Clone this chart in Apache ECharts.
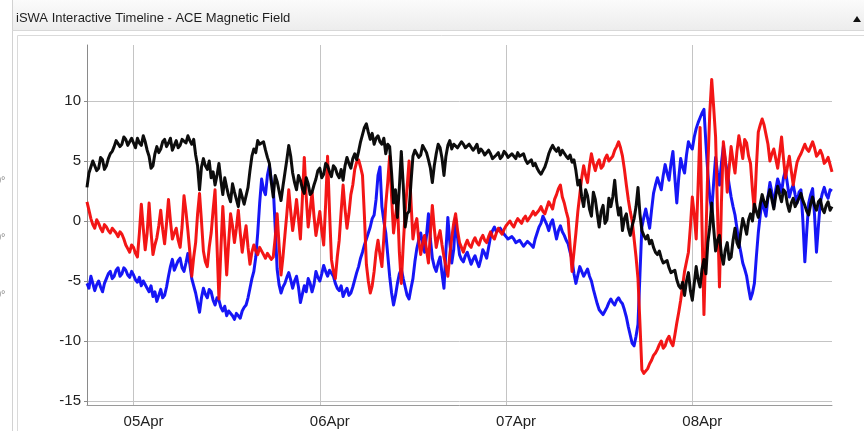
<!DOCTYPE html>
<html>
<head>
<meta charset="utf-8">
<title>iSWA Interactive Timeline - ACE Magnetic Field</title>
<script src="https://cdn.jsdelivr.net/npm/echarts@6/dist/echarts.min.js"></script>
<style>
  html, body { margin: 0; padding: 0; background: #fff; }
  #chart { width: 864px; height: 431px; }
</style>
</head>
<body>
<div id="chart"></div>
<script>
// ACE magnetic field components (nT), 15-minute samples starting 04 Apr 18:00 UT
const stepHours = 0.25;
const dayTicks = [6, 30, 54, 78];            // hours after start: 05Apr..08Apr 00:00
const dayLabels = ['05Apr', '06Apr', '07Apr', '08Apr'];
const yTicks = [-15, -10, -5, 0, 5, 10];

const bx = [
  2.8, 4.0, 4.5, 5.0, 4.9, 4.2, 4.4, 5.3, 5.1, 4.3,
  4.6, 5.2, 5.6, 5.8, 6.2, 6.7, 6.6, 6.2, 6.4, 7.0,
  6.8, 6.3, 6.6, 6.9, 6.5, 6.1, 6.9, 6.5, 6.3, 7.1,
  6.6, 5.9, 5.4, 4.4, 4.6, 5.6, 6.2, 5.7, 6.0, 6.6,
  6.8, 6.2, 6.5, 6.9, 5.9, 6.3, 6.7, 6.1, 6.3, 6.8,
  6.9, 6.5, 7.1, 6.7, 6.4, 6.8, 5.5, 4.6, 2.6, 4.5,
  5.2, 4.6, 4.3, 5.0, 3.6, 4.1, 3.0, 3.8, 4.8, 3.4,
  2.2, 3.6, 2.8, 2.1, 1.6, 3.1, 2.4, 1.8, 1.2, 2.6,
  2.0, 1.4, 1.3, 2.8, 4.2, 5.4, 6.0, 5.7, 6.7, 6.4,
  6.3, 6.6, 5.9, 5.3, 4.8, 3.2, 2.0, 3.8, 3.3, 2.5,
  1.7, 2.9, 4.0, 5.1, 6.3, 5.4, 4.0, 3.2, 2.6, 3.8,
  3.4, 2.7, 2.3, 3.6, 3.1, 2.2, 2.4, 3.0, 3.5, 4.2,
  4.4, 3.6, 3.9, 4.8, 4.6, 4.1, 3.7, 4.6, 4.4, 3.9,
  3.6, 4.3, 3.4, 4.6, 5.3, 4.8, 4.4, 5.2, 5.6, 5.1,
  5.8, 6.6, 7.2, 7.8, 8.1, 7.4, 6.8, 7.3, 6.4, 6.9,
  7.1, 6.6, 6.4, 6.9, 5.6, 6.4, 6.2, 4.0, 1.5, 2.6,
  0.3, 2.8, 5.8, 3.0, -0.5, 0.6, 0.8, 3.2, 5.4, 5.9,
  6.0, 5.3, 5.5, 6.3, 6.2, 5.7, 5.1, 4.4, 3.2, 4.6,
  5.6, 6.4, 6.1, 5.2, 3.8, 5.4, 6.3, 6.7, 6.0, 6.4,
  6.5, 6.1, 6.2, 6.6, 6.4, 6.1, 6.0, 6.4, 6.3, 5.9,
  6.1, 6.4, 5.7, 6.0, 5.8, 5.5, 5.4, 5.9, 5.6, 5.2,
  5.3, 5.5, 5.7, 5.2, 5.4, 5.8, 5.6, 5.3, 5.2, 5.6,
  5.5, 5.2, 5.7, 5.4, 5.3, 5.6, 5.1, 4.8, 4.9, 5.1,
  4.6, 4.8, 4.4, 4.1, 3.9, 4.2, 4.5, 5.0, 5.6, 6.0,
  6.3, 6.0, 5.8, 6.1, 5.5, 5.9, 5.8, 5.4, 5.2, 5.5,
  4.9, 5.1, 4.2, 3.0, 3.4, 2.0, 1.2, 2.6, 2.1, 1.0,
  0.4, 2.4, 1.8, 0.6, -0.5, 0.8, 1.3, -0.2, 0.1, 1.9,
  1.2, 2.0, 3.4, 1.6, 0.5, 1.1, -0.8, 0.2, 0.6, -0.6,
  -1.2, -0.4, 0.2, 1.2, 2.8, 0.6, -0.8, -1.2, -1.5, -1.2,
  -1.9, -1.6, -2.2, -2.6, -2.8, -2.5, -3.1, -3.5, -3.6, -3.3,
  -3.9, -4.3, -4.4, -4.1, -4.9, -5.4, -5.6, -5.1, -6.2, -5.0,
  -4.3, -5.8, -6.6, -5.2, -3.8, -4.9, -5.5, -4.0, -3.2, -4.4,
  -1.8, -0.5, 1.5, -0.6, -2.5, -1.6, -1.2, -2.8, -3.6, -2.4,
  -1.8, -3.2, -3.0, -1.6, -0.6, -1.8, -2.2, -0.9, 0.2, -0.4,
  -1.1, 0.1, 0.6, 0.0, 1.4, 0.8, 0.3, 1.4, 2.2, 1.6,
  1.2, 2.0, 2.6, 1.8, 1.0, 2.1, 2.9, 2.2, 1.6, 2.6,
  2.4, 1.4, 0.8, 1.5, 1.9, 1.2, 1.1, 1.9, 2.3, 1.7,
  1.3, 0.8, 0.5, 1.4, 2.0, 1.3, 0.9, 1.6, 1.8, 1.0,
  0.7, 1.3, 1.6, 0.9, 1.2
];

const by = [
  -5.2, -5.6, -4.6, -5.2, -5.8, -5.3, -5.0, -5.5, -5.9, -5.2,
  -4.8, -4.4, -4.2, -4.8, -4.6, -4.1, -3.9, -4.6, -4.4, -3.9,
  -4.1, -4.5, -4.7, -4.2, -4.5, -4.9, -5.1, -4.7, -5.4, -5.0,
  -5.0, -5.6, -5.9, -5.4, -6.3, -5.9, -6.7, -6.2, -5.7, -6.4,
  -6.2, -5.5, -4.6, -3.8, -3.2, -4.1, -3.7, -3.3, -3.1, -3.9,
  -4.2, -3.5, -2.7, -3.6, -4.8, -5.4, -6.0, -6.8, -7.6, -6.4,
  -5.6, -6.1, -6.4, -5.7, -5.9, -6.6, -7.0, -6.4, -6.6, -7.2,
  -7.5, -7.1, -7.9, -7.5, -7.4, -7.9, -8.2, -7.7, -7.8, -8.1,
  -7.5, -7.2, -7.0, -6.4, -5.6, -4.8, -4.2, -3.0, -1.0, 1.5,
  3.5, 2.6, 2.2, 3.8, 4.6, 3.4, 2.8, -0.5, -4.0, -5.3,
  -6.0, -5.5, -5.2, -4.7, -4.3, -4.9, -5.6, -5.0, -4.6, -5.5,
  -6.8, -6.1, -5.4, -5.9, -4.8, -5.2, -5.9, -5.3, -4.2, -4.7,
  -5.0, -4.4, -3.7, -4.2, -4.6, -4.1, -4.0, -4.6, -5.2, -5.6,
  -5.8, -5.4, -6.3, -5.9, -5.6, -6.2, -6.0, -5.5, -4.9, -4.3,
  -3.8, -3.1, -2.6, -2.0, -1.5, -1.0, -0.5, 0.2, 0.5, 1.8,
  3.8, 4.5, 1.2, 0.0, -1.0, -2.8, -4.6, -6.0, -7.0, -6.2,
  -5.2, -4.4, -4.0, -4.8, -5.5, -6.2, -6.5, -5.6, -4.8, -3.4,
  -2.3, -1.6, -1.0, -1.9, -2.6, -1.2, 0.6, -1.5, -3.1, -3.8,
  -4.2, -3.5, -3.0, -4.4, -5.6, -2.5, 0.3, -1.8, -3.5, -2.4,
  0.2, -1.4, -2.8, -3.2, -3.4, -2.9, -2.6, -3.1, -3.6, -3.2,
  -2.9, -3.4, -3.8, -3.2, -2.4, -2.7, -3.1, -2.2, -1.3, -0.8,
  -0.5, -0.9, -1.0, -0.6, -0.7, -1.1, -1.3, -1.5, -1.6, -1.3,
  -1.5, -1.8, -1.9, -1.6, -1.7, -2.1, -2.0, -1.7, -1.6, -2.0,
  -2.2, -1.5, -1.0, -0.5, -0.2, 0.4, 0.3, -0.3, -0.8, -0.2,
  0.1, -0.7, -1.5, -0.8, -0.4, -0.9, -1.2, -1.6, -1.9, -2.6,
  -3.2, -4.4, -5.2, -4.5, -3.8, -4.2, -4.6, -4.3, -4.0, -4.6,
  -5.0, -5.7, -6.3, -6.9, -7.4, -7.6, -7.8, -7.5, -7.2, -6.8,
  -6.5, -6.8, -7.0, -6.6, -6.4, -6.7, -6.9, -7.4, -8.0, -8.8,
  -9.5, -10.2, -10.4, -9.6, -8.6, -4.5, -0.5, 0.3, 1.0, 0.2,
  -0.6, 0.9, 2.3, 3.0, 3.6, 3.1, 2.6, 3.8, 4.7, 4.0,
  3.4, 4.8, 5.8, 3.6, 1.5, 3.6, 5.2, 4.5, 4.0, 5.5,
  6.6, 6.2, 6.0, 7.0, 7.7, 8.2, 8.6, 9.0, 9.3, 6.5,
  4.0, 2.0, 0.8, 3.2, 5.3, 4.0, 3.0, 4.8, 6.2, 5.0,
  4.1, 3.0, 2.0, 1.2, 0.5, -0.6, -1.8, -2.6, -3.5, -4.0,
  -4.6, -5.6, -6.5, -6.0, -5.2, -3.0, -1.0, 0.5, 1.8, 1.0,
  0.4, 2.0, 3.2, 2.4, 1.2, 2.6, 3.5, 3.0, 2.4, 3.6,
  4.2, 3.1, 2.0, 2.6, 3.0, 2.2, 1.5, 2.4, 2.6, 0.0,
  -3.4, -0.8, 1.5, 2.2, 2.7, 0.5, -2.6, -0.4, 1.6, 2.3,
  2.8, 2.2, 1.9, 2.6, 2.5
];

const bz = [
  1.6, 0.9, 0.2, -0.3, -0.6, 0.1, -0.2, -0.6, -0.9, -0.3,
  -0.5, -0.8, -1.0, -0.6, -0.7, -1.0, -1.3, -0.9, -1.1, -1.5,
  -2.0, -2.3, -2.6, -2.0, -2.2, -2.7, -3.0, -1.0, 1.4, -0.6,
  -2.4, -1.0, 1.5, -0.9, -2.8, -2.0, -1.4, -0.4, 0.9, -0.7,
  -1.9, -0.2, 1.8, 0.0, -1.5, -1.0, -0.6, -1.6, -2.2, -0.5,
  2.1, 0.8, -0.8, -2.6, -4.6, -3.0, -1.8, 0.6, 2.3, 0.0,
  -2.5, -3.4, -3.8, -2.2, -1.0, 0.9, 2.6, -2.0, -6.5, -2.4,
  1.2, -1.5, -4.5, -1.8, 0.6, -0.4, -1.8, -0.6, 0.9, -1.0,
  -2.6, -1.4, -0.4, -2.2, -3.6, -2.6, -2.0, -2.5, -2.8, -2.2,
  -2.3, -2.8, -3.1, -2.7, -2.6, -3.2, -3.0, -1.4, 0.6, -2.0,
  -4.5, -3.0, -1.2, 0.6, 2.6, 0.8, -0.8, 0.4, 1.8, 0.2,
  -1.5, 1.8, 5.3, 2.0, -0.5, 0.9, 2.4, 0.4, -1.2, -0.2,
  0.8, -0.8, -2.0, 1.4, 5.4, 0.8, -3.2, -4.2, -4.8, -3.0,
  -1.6, 0.8, 3.0, 1.0, -0.6, 0.6, 2.2, 3.0, 4.3, 4.9,
  5.1, 4.5, 3.8, 0.4, -3.6, -5.0, -6.0, -5.4, -4.2, -2.6,
  -1.6, -2.8, -3.8, -1.4, 1.4, 3.2, 5.4, 2.0, -1.0, 0.4,
  1.6, -2.6, -5.2, -2.0, 0.8, 2.8, 5.0, 1.6, -1.5, -0.4,
  0.2, -1.6, -2.8, -1.9, -1.2, -2.4, -3.5, -1.0, 1.3, -0.6,
  -2.2, -1.4, -0.8, -2.0, -3.0, -3.8, -4.6, -2.8, -1.4, -0.2,
  0.6, -0.8, -1.8, -2.2, -2.6, -2.0, -1.6, -2.0, -2.2, -1.7,
  -1.4, -1.8, -2.0, -1.5, -1.2, -1.6, -1.8, -1.3, -0.9, -1.3,
  -1.5, -1.0, -0.6, -0.9, -1.1, -0.7, -0.4, -0.2, 0.0, -0.3,
  -0.5, -0.1, 0.2, 0.0, -0.2, 0.2, 0.4, 0.0, 0.1, 0.5,
  0.8, 0.5, 0.4, 0.9, 1.2, 0.8, 0.6, 1.1, 1.6, 1.3,
  1.0, 1.8, 2.2, 2.7, 3.0, 2.0, 1.5, 0.8, 0.2, -2.0,
  -4.2, -2.6, -1.0, 0.8, 2.2, 3.6, 4.6, 3.8, 3.2, 4.6,
  5.6, 4.8, 4.2, 4.8, 5.1, 4.4, 4.6, 5.2, 5.5, 5.0,
  4.9, 5.4, 5.9, 6.2, 6.6, 6.1, 5.4, 4.3, 3.0, 1.8,
  0.8, 0.0, -1.5, -3.0, -4.8, -8.5, -12.4, -12.7, -12.8, -12.3,
  -11.9, -11.6, -11.2, -11.0, -10.7, -10.3, -10.0, -10.6, -10.4, -9.9,
  -9.6, -10.1, -10.4, -9.5, -8.5, -7.6, -6.6, -5.4, -4.2, -3.4,
  -2.6, -0.5, 2.0, 0.5, -1.5, 3.0, 7.8, -0.5, -7.8, -1.5,
  4.5, 9.0, 11.8, 9.5, 7.0, 0.8, -5.5, 1.5, 6.6, 5.2,
  2.4, 4.4, 6.2, 5.0, 4.0, 5.8, 7.1, 6.2, 5.2, 6.8,
  6.5, 5.4, 4.8, 2.6, 0.8, 4.4, 7.4, 8.0, 8.5, 8.0,
  7.2, 6.4, 5.0, 5.6, 6.0, 5.2, 4.4, 5.6, 7.0, 5.2,
  3.6, 4.5, 5.4, 4.2, 3.0, 4.0, 4.9, 5.3, 5.6, 6.0,
  6.4, 6.0, 5.8, 6.2, 6.6, 6.1, 5.4, 5.6, 5.9, 5.5,
  4.8, 5.0, 5.3, 4.7, 4.1
];

function toPairs(values) {
  return values.map(function (v, i) { return [i * stepHours, v]; });
}

const textFont = '"Liberation Sans", Arial, Helvetica, sans-serif';

function lineSeries(name, values, color, z) {
  return {
    name: name,
    type: 'line',
    data: toPairs(values),
    showSymbol: false,
    symbol: 'none',
    z: z,
    lineStyle: { color: color, width: 3, opacity: 0.95, join: 'round' },
    emphasis: { disabled: true },
    animation: false
  };
}

const chart = echarts.init(document.getElementById('chart'), null, { renderer: 'canvas' });

chart.setOption({
  animation: false,
  backgroundColor: '#ffffff',
  grid: { left: 87, right: 32, top: 45, bottom: 26, outerBoundsMode: 'none' },
  xAxis: {
    type: 'value',
    min: 0,
    max: 96,
    axisLine: { show: true, onZero: false, lineStyle: { color: '#9a9a9a', width: 1 } },
    axisTick: { show: false, customValues: dayTicks },
    axisLabel: {
      customValues: dayTicks,
      formatter: function (v) { return dayLabels[dayTicks.indexOf(v)]; },
      color: '#222',
      fontSize: 15,
      fontFamily: textFont,
      margin: 9,
      padding: [0, 0, 0, 20]
    },
    splitLine: { show: true, lineStyle: { color: '#c4c4c4', width: 1 } }
  },
  yAxis: {
    type: 'value',
    min: -15.333,
    max: 14.667,
    axisLine: { show: true, lineStyle: { color: '#8a8a8a', width: 1 } },
    axisTick: { show: true, length: 3, customValues: yTicks, lineStyle: { color: '#8a8a8a' } },
    axisLabel: {
      customValues: yTicks,
      color: '#222',
      fontSize: 15,
      fontFamily: textFont,
      margin: 6
    },
    splitLine: { show: true, lineStyle: { color: '#c4c4c4', width: 1 } }
  },
  series: [
    lineSeries('By', by, '#0a0af5', 2),
    lineSeries('Bz', bz, '#f20a0a', 3),
    lineSeries('Bx', bx, '#000000', 4)
  ],
  graphic: [
    {
      type: 'rect', z: -1, silent: true,
      shape: { x: 12, y: 0, width: 852, height: 31 },
      style: {
        fill: new echarts.graphic.LinearGradient(0, 0, 0, 1, [
          { offset: 0, color: '#fbfbfb' },
          { offset: 1, color: '#ececec' }
        ])
      }
    },
    {
      type: 'line', silent: true,
      shape: { x1: 12.5, y1: 0, x2: 12.5, y2: 431 },
      style: { stroke: '#d2d2d2', lineWidth: 1 }
    },
    {
      type: 'line', silent: true,
      shape: { x1: 12, y1: 30.5, x2: 864, y2: 30.5 },
      style: { stroke: '#d8d8d8', lineWidth: 1 }
    },
    {
      type: 'rect', silent: true,
      shape: { x: 17.5, y: 35.5, width: 860, height: 410 },
      style: { fill: 'none', stroke: '#dadada', lineWidth: 1 }
    },
    {
      type: 'text', silent: true,
      x: 16, y: 18,
      style: {
        text: 'iSWA Interactive Timeline - ACE Magnetic Field',
        fill: '#1e1e1e',
        font: '13px "Liberation Sans", Arial, sans-serif',
        verticalAlign: 'middle'
      }
    },
    {
      type: 'polygon', silent: true,
      shape: { points: [[853, 22], [861, 22], [857, 16]] },
      style: { fill: '#111' }
    },
    {
      type: 'text', silent: true, x: -5, y: 181,
      style: { text: '0°', fill: '#888', font: '11px "Liberation Sans", Arial, sans-serif', verticalAlign: 'middle' }
    },
    {
      type: 'text', silent: true, x: -5, y: 238,
      style: { text: '0°', fill: '#888', font: '11px "Liberation Sans", Arial, sans-serif', verticalAlign: 'middle' }
    },
    {
      type: 'text', silent: true, x: -5, y: 295,
      style: { text: '0°', fill: '#888', font: '11px "Liberation Sans", Arial, sans-serif', verticalAlign: 'middle' }
    }
  ]
});
</script>
</body>
</html>
